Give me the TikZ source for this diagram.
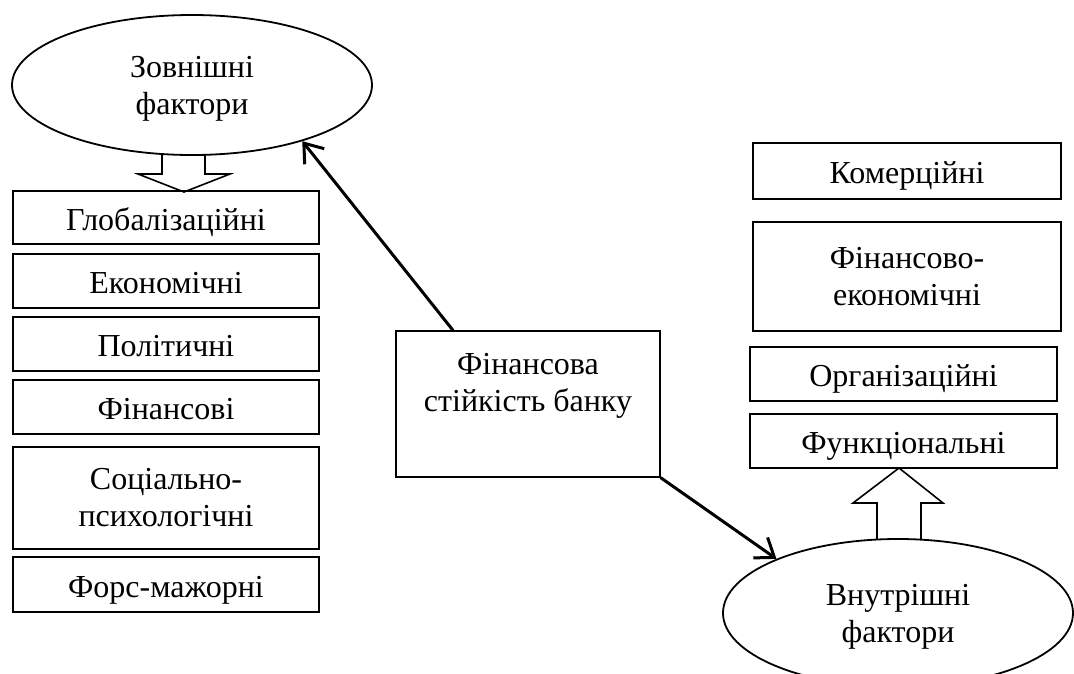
\documentclass[tikz,border=0pt]{standalone}
\usepackage{fontspec}
\setmainfont{Liberation Serif}
\usetikzlibrary{arrows.meta,shapes.geometric}

\begin{document}
\begin{tikzpicture}[x=1pt,y=-1pt,
  every node/.style={font=\fontsize{32}{37}\selectfont},
  factor/.style={draw, line width=1.3pt, inner sep=0pt, align=center},
  oneline/.style={factor, text height=25pt, text depth=0pt},
  oval/.style={draw, ellipse, line width=1.8pt, inner sep=0pt, align=center, text depth=0pt},
  link/.style={line width=3pt, -{Straight Barb[length=17pt,width=25pt]}},
  hollow/.style={draw, line width=1.6pt, line join=miter}
]
\fill[white] (0,0) rectangle (1074,673);
\clip (0,0) rectangle (1074,673);

% external factors
\node[oval, minimum width=360pt, minimum height=140pt] (ext) at (192,85) {Зовнішні\\фактори};
\node[oneline, minimum width=306pt, minimum height=53pt]  (glob)  at (166,217.5) {Глобалізаційні};
\node[oneline, minimum width=306pt, minimum height=54pt]  (econ)  at (166,281)   {Економічні};
\node[oneline, minimum width=306pt, minimum height=54pt]  (pol)   at (166,344)   {Політичні};
\node[oneline, minimum width=306pt, minimum height=54pt]  (finl)  at (166,407)   {Фінансові};
\node[factor,  minimum width=306pt, minimum height=102pt] (soc)   at (166,498)   {Соціально-\\психологічні};
\node[oneline, minimum width=306pt, minimum height=55pt]  (force) at (166,584.5) {Форс-мажорні};

% central box
\node[factor, minimum width=264pt, minimum height=146pt] (fin) at (528,404) {};
\node[anchor=north, align=center, inner sep=0pt] (fintext) at (528,353) {Фінансова\\стійкість банку};

% internal factors
\node[oneline, minimum width=308pt, minimum height=56pt]  (kom)  at (907,171)   {Комерційні};
\node[factor,  minimum width=308pt, minimum height=109pt] (fe)   at (907,276.5) {Фінансово-\\економічні};
\node[oneline, minimum width=307pt, minimum height=54pt]  (org)  at (903.5,374) {Організаційні};
\node[oneline, minimum width=307pt, minimum height=54pt]  (func) at (903.5,441) {Функціональні};
\node[oval, minimum width=350pt, minimum height=148pt] (int) at (898,613) {Внутрішні\\фактори};

% hollow block arrows
\draw[hollow] (162,155) -- (162,174) -- (138,174) -- (184,192) -- (230,174) -- (205,174) -- (205,155);
\draw[hollow] (877,539) -- (877,503) -- (853,503) -- (899,468) -- (943,503) -- (921,503) -- (921,539);

% connectors from the central box
\draw[link] ([xshift=-75pt]fin.north) -- (ext.-27.6);
\draw[link] (fin.south east) -- (int.156.7);
\end{tikzpicture}
\end{document}
